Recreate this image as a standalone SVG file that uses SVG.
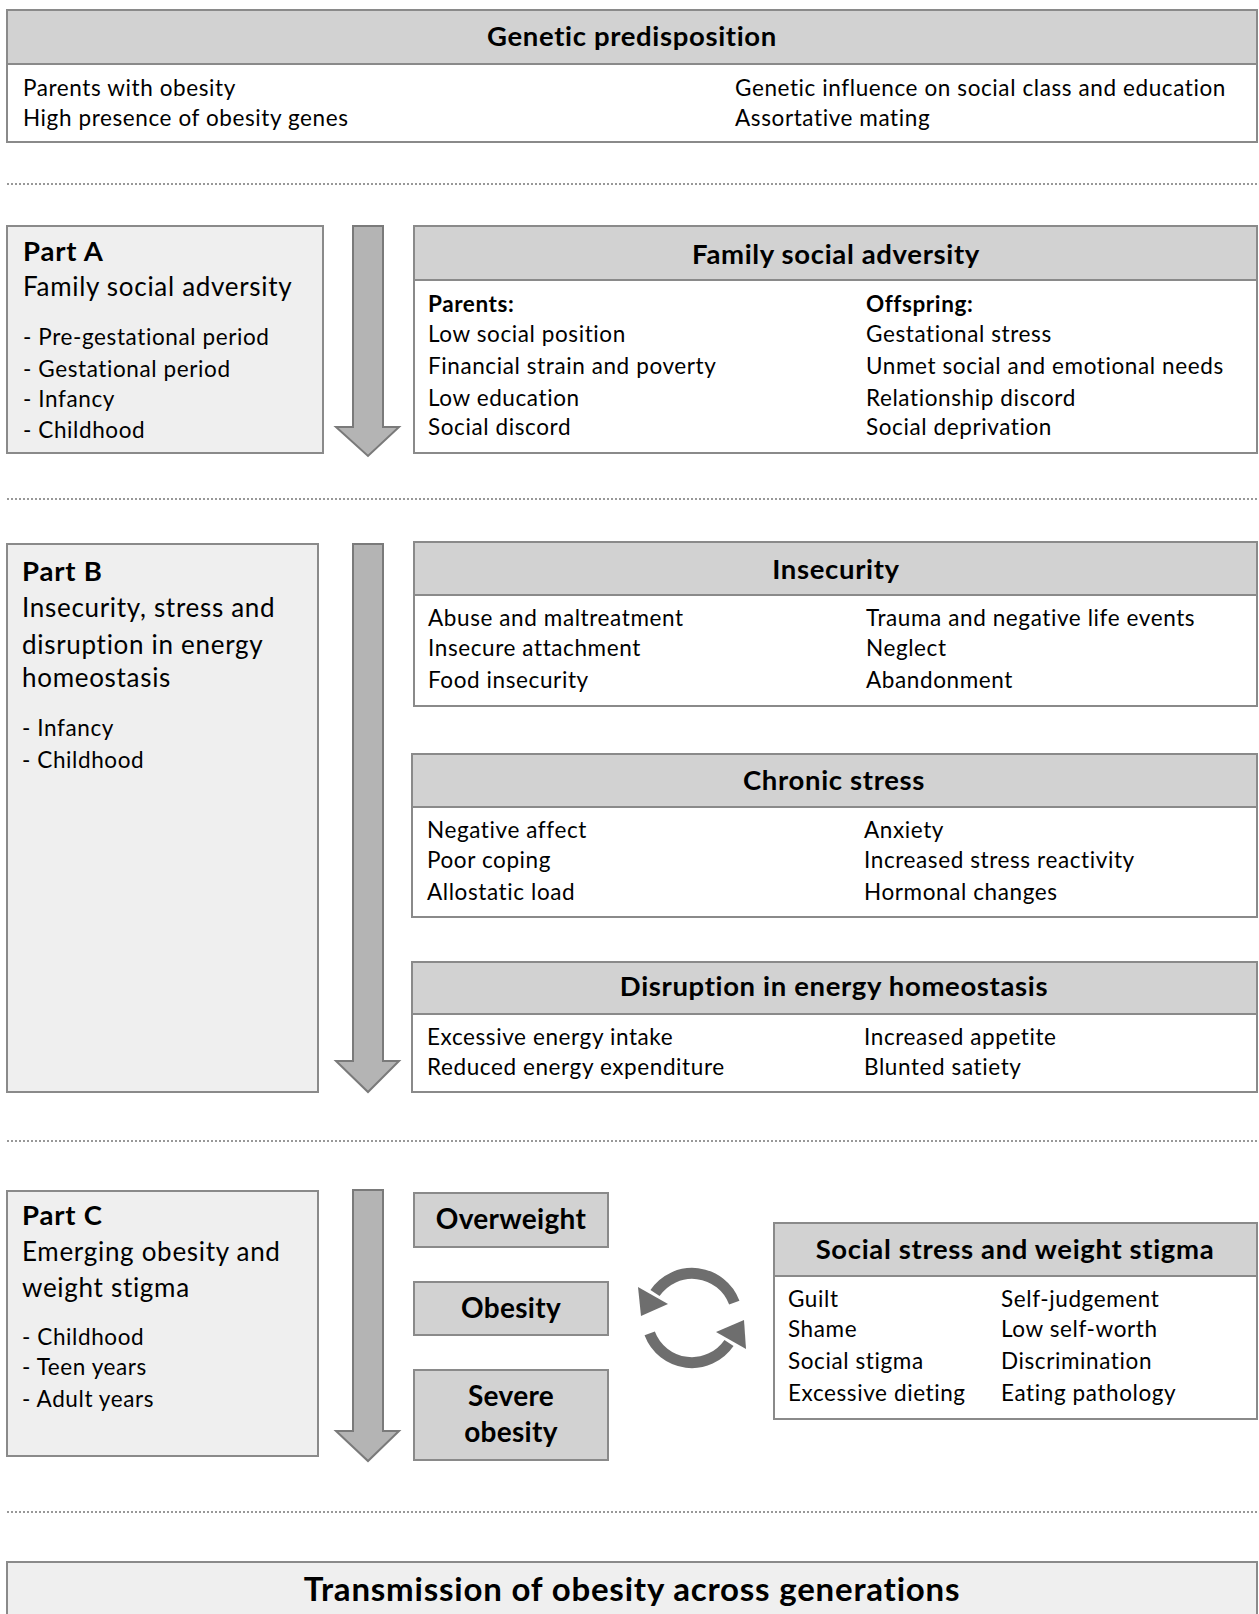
<svg xmlns="http://www.w3.org/2000/svg" width="1259" height="1614" viewBox="0 0 1259 1614">
<style>
.box{fill:#ffffff;stroke:#8a8a8a;stroke-width:2}
.hd{fill:#d2d2d2;stroke:#8a8a8a;stroke-width:2}
.lt{fill:#efefef;stroke:#8a8a8a;stroke-width:2}
.dot{stroke:#777;stroke-width:1.6;stroke-dasharray:2 2;fill:none}
.arr{fill:#b4b4b4;stroke:#7a7a7a;stroke-width:2}
.cyc{fill:none;stroke:#6e6e6e;stroke-width:11}
.cyh{fill:#6e6e6e}
text{font-family:Lato,"Open Sans","Liberation Sans",sans-serif;fill:#000}
.h{font-size:27.5px;font-weight:bold;text-anchor:middle;letter-spacing:0.65px}
.b{font-size:22.5px;letter-spacing:0.6px}
.bb{font-size:22.5px;font-weight:bold;letter-spacing:0.6px}
.pt{font-size:27.5px;font-weight:bold;letter-spacing:0.8px}
.ps{font-size:26px;letter-spacing:0.7px}
.big{font-size:28px;font-weight:bold;text-anchor:middle;letter-spacing:0.3px}
</style>
<rect width="1259" height="1614" fill="#fff"/>

<g id="genetic">
<rect class="box" x="7" y="10" width="1250" height="132"/>
<rect class="hd" x="7" y="10" width="1250" height="54"/>
<text class="h" x="632" y="46">Genetic predisposition</text>
<text class="b" x="23" y="96">Parents with obesity</text>
<text class="b" x="23" y="126">High presence of obesity genes</text>
<text class="b" x="735" y="96">Genetic influence on social class and education</text>
<text class="b" x="735" y="126">Assortative mating</text>
</g>

<g id="separators">
<line class="dot" x1="7" y1="184" x2="1257" y2="184"/>
<line class="dot" x1="7" y1="499" x2="1257" y2="499"/>
<line class="dot" x1="7" y1="1141" x2="1257" y2="1141"/>
<line class="dot" x1="7" y1="1512" x2="1257" y2="1512"/>
</g>

<g id="partA">
<rect class="lt" x="7" y="226" width="316" height="227"/>
<text class="pt" x="23" y="261">Part A</text>
<text class="ps" x="23" y="296">Family social adversity</text>
<text class="b" x="23" y="345">- Pre-gestational period</text>
<text class="b" x="23" y="377">- Gestational period</text>
<text class="b" x="23" y="407">- Infancy</text>
<text class="b" x="23" y="438">- Childhood</text>
</g>

<g id="familyAdversity">
<rect class="box" x="414" y="226" width="843" height="227"/>
<rect class="hd" x="414" y="226" width="843" height="54"/>
<text class="h" x="836" y="264">Family social adversity</text>
<text class="bb" x="428" y="312">Parents:</text>
<text class="b" x="428" y="342">Low social position</text>
<text class="b" x="428" y="374">Financial strain and poverty</text>
<text class="b" x="428" y="406">Low education</text>
<text class="b" x="428" y="435">Social discord</text>
<text class="bb" x="866" y="312">Offspring:</text>
<text class="b" x="866" y="342">Gestational stress</text>
<text class="b" x="866" y="374">Unmet social and emotional needs</text>
<text class="b" x="866" y="406">Relationship discord</text>
<text class="b" x="866" y="435">Social deprivation</text>
</g>

<g id="partB">
<rect class="lt" x="7" y="544" width="311" height="548"/>
<text class="pt" x="22" y="581">Part B</text>
<text class="ps" x="22" y="617">Insecurity, stress and</text>
<text class="ps" x="22" y="654">disruption in energy</text>
<text class="ps" x="22" y="687">homeostasis</text>
<text class="b" x="22" y="736">- Infancy</text>
<text class="b" x="22" y="768">- Childhood</text>
</g>

<g id="insecurity">
<rect class="box" x="414" y="542" width="843" height="164"/>
<rect class="hd" x="414" y="542" width="843" height="53"/>
<text class="h" x="836" y="579">Insecurity</text>
<text class="b" x="428" y="626">Abuse and maltreatment</text>
<text class="b" x="428" y="656">Insecure attachment</text>
<text class="b" x="428" y="688">Food insecurity</text>
<text class="b" x="866" y="626">Trauma and negative life events</text>
<text class="b" x="866" y="656">Neglect</text>
<text class="b" x="866" y="688">Abandonment</text>
</g>

<g id="chronicStress">
<rect class="box" x="412" y="754" width="845" height="163"/>
<rect class="hd" x="412" y="754" width="845" height="53"/>
<text class="h" x="834" y="790">Chronic stress</text>
<text class="b" x="427" y="838">Negative affect</text>
<text class="b" x="427" y="868">Poor coping</text>
<text class="b" x="427" y="900">Allostatic load</text>
<text class="b" x="864" y="838">Anxiety</text>
<text class="b" x="864" y="868">Increased stress reactivity</text>
<text class="b" x="864" y="900">Hormonal changes</text>
</g>

<g id="energyDisruption">
<rect class="box" x="412" y="962" width="845" height="130"/>
<rect class="hd" x="412" y="962" width="845" height="52"/>
<text class="h" x="834" y="996">Disruption in energy homeostasis</text>
<text class="b" x="427" y="1045">Excessive energy intake</text>
<text class="b" x="427" y="1075">Reduced energy expenditure</text>
<text class="b" x="864" y="1045">Increased appetite</text>
<text class="b" x="864" y="1075">Blunted satiety</text>
</g>

<g id="partC">
<rect class="lt" x="7" y="1191" width="311" height="265"/>
<text class="pt" x="22" y="1225">Part C</text>
<text class="ps" x="22" y="1261">Emerging obesity and</text>
<text class="ps" x="22" y="1297">weight stigma</text>
<text class="b" x="22" y="1345">- Childhood</text>
<text class="b" x="22" y="1375">- Teen years</text>
<text class="b" x="22" y="1407">- Adult years</text>
</g>

<g id="overweight">
<rect class="hd" x="414" y="1193" width="194" height="54"/>
<text class="big" x="511" y="1229">Overweight</text>
</g>
<g id="obesity">
<rect class="hd" x="414" y="1282" width="194" height="53"/>
<text class="big" x="511" y="1318">Obesity</text>
</g>
<g id="severeObesity">
<rect class="hd" x="414" y="1370" width="194" height="90"/>
<text class="big" x="511" y="1406">Severe</text>
<text class="big" x="511" y="1442">obesity</text>
</g>

<g id="socialStress">
<rect class="box" x="774" y="1223" width="483" height="196"/>
<rect class="hd" x="774" y="1223" width="483" height="53"/>
<text class="h" x="1015" y="1259">Social stress and weight stigma</text>
<text class="b" x="788" y="1307">Guilt</text>
<text class="b" x="788" y="1337">Shame</text>
<text class="b" x="788" y="1369">Social stigma</text>
<text class="b" x="788" y="1401">Excessive dieting</text>
<text class="b" x="1001" y="1307">Self-judgement</text>
<text class="b" x="1001" y="1337">Low self-worth</text>
<text class="b" x="1001" y="1369">Discrimination</text>
<text class="b" x="1001" y="1401">Eating pathology</text>
</g>

<g id="transmission">
<rect class="lt" x="7" y="1562" width="1250" height="60"/>
<text class="big" x="632" y="1601" style="font-size:33px;letter-spacing:0.8px">Transmission of obesity across generations</text>
</g>

<g id="connectors">
<path class="arr" d="M353,226 H383 V427 H399 L368,456 L336,427 H353 Z"/>
<path class="arr" d="M353,544 H383 V1061 H399 L368,1092 L336,1061 H353 Z"/>
<path class="arr" d="M353,1190 H383 V1431 H399 L368,1461 L336,1431 H353 Z"/>
<path class="cyc" d="M734.3,1302.6 A45,45 0 0 0 655,1293"/>
<polygon class="cyh" points="638,1287 668,1304 641,1316"/>
<path class="cyc" d="M649.7,1333.4 A45,45 0 0 0 729,1343"/>
<polygon class="cyh" points="746,1349 716,1332 744,1320"/>
</g>
</svg>
